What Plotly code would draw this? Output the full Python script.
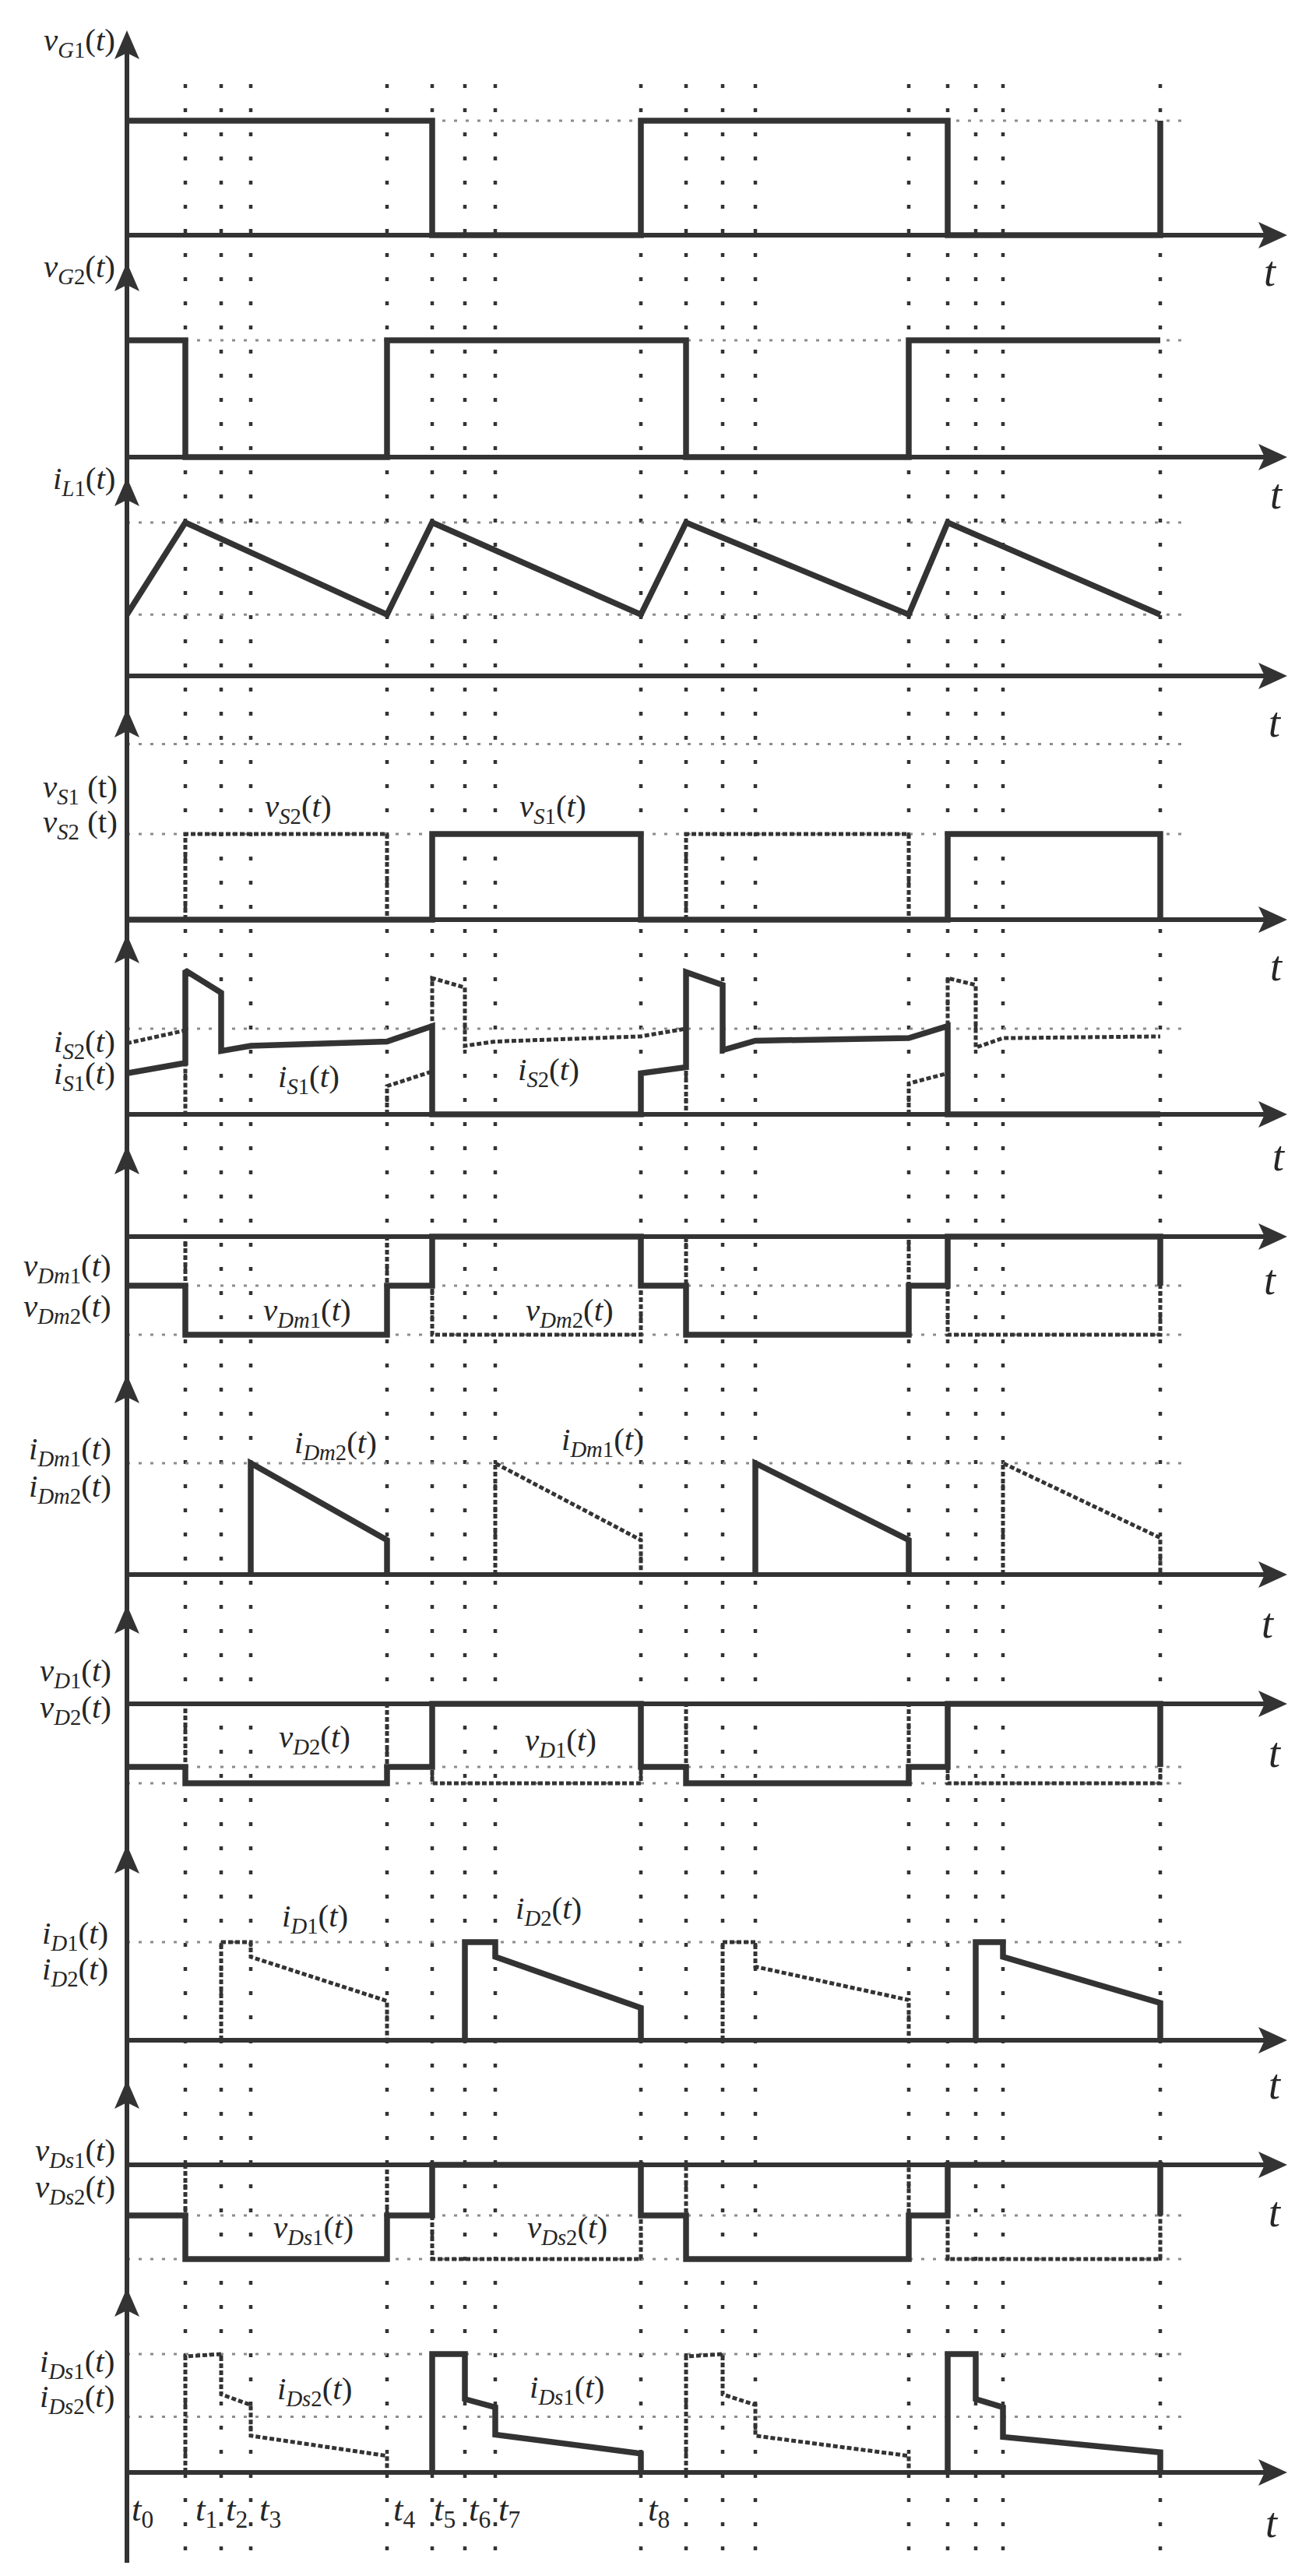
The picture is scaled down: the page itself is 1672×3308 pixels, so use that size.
import plotly.graph_objects as go

W, H = 1672, 3308
AXIS_PX = 155          # pixel column of the vertical axis (t = 0)
C = "#333333"
TXT = "#262626"
FONT = "Liberation Serif"

# ---------------- data ----------------
# time marks t0..t15 and end of the drawn interval (arbitrary time units)
T_MARKS = [0, 75, 121, 159, 334, 392, 434, 473, 660, 718, 765, 807, 1004, 1054, 1090, 1125, 1327]
T_LABELS = ["t0", "t1", "t2", "t3", "t4", "t5", "t6", "t7", "t8"]

# waveforms: indices into T_MARKS and normalized values (None = gap)
VG1_IDX = [0, 5, 5, 8, 8, 13, 13, 16, 16]
VG1_VAL = [1, 1, 0, 0, 1, 1, 0, 0, 1]
VG2_IDX = [0, 1, 1, 4, 4, 9, 9, 12, 12, 16]
VG2_VAL = [1, 1, 0, 0, 1, 1, 0, 0, 1, 1]

IL1_IDX = [0, 1, 4, 5, 8, 9, 12, 13, 16]
IL1_VAL = [0.40, 1.0, 0.40, 1.0, 0.40, 1.0, 0.40, 1.0, 0.40]

VS1_IDX = [0, 5, 5, 8, 8, 13, 13, 16, 16]
VS1_VAL = [0, 0, 1, 1, 0, 0, 1, 1, 0]
VS2_IDX = [1, 1, 4, 4, None, 9, 9, 12, 12]
VS2_VAL = [0, 1, 1, 0, None, 0, 1, 1, 0]

IS1_IDX = [0, 1, 1, 2, 2, 3, 4, 5, 5, 8, 8, 9, 9, 10, 10, 11, 12, 13, 13, 16]
IS1_VAL = [0.48, 0.60, 1.68, 1.42, 0.74, 0.80, 0.85, 1.03, 0, 0,
           0.48, 0.55, 1.66, 1.51, 0.75, 0.86, 0.89, 1.03, 0, 0]
IS2_IDX = [0, 1, 1, None, 4, 4, 5, 5, 6, 6, 7, 8, 9, 9, None,
           12, 12, 13, 13, 14, 14, 15, 16]
IS2_VAL = [0.83, 0.98, 0, None, 0, 0.33, 0.50, 1.59, 1.48, 0.80, 0.85, 0.91, 1.0, 0, None,
           0, 0.36, 0.48, 1.59, 1.51, 0.78, 0.89, 0.91]

STEP_IDX = [0, 1, 1, 4, 4, 5, 5, 8, 8, 9, 9, 12, 12, 13, 13, 16, 16]
VDM1_VAL = [-1, -1, -2, -2, -1, -1, 0, 0, -1, -1, -2, -2, -1, -1, 0, 0, -1]
VDM2_VAL = [-1, -1, 0, 0, -1, -1, -2, -2, -1, -1, 0, 0, -1, -1, -2, -2, -1]

IDM2_IDX = [3, 3, 4, 4, None, 11, 11, 12, 12]
IDM2_VAL = [0, 1, 0.31, 0, None, 0, 1, 0.31, 0]
IDM1_IDX = [7, 7, 8, 8, None, 15, 15, 16, 16]
IDM1_VAL = [0, 1, 0.31, 0, None, 0, 1, 0.33, 0]

VD1_VAL = [-1, -1, -1.26, -1.26, -1, -1, 0, 0, -1, -1, -1.26, -1.26, -1, -1, 0, 0, -1]
VD2_VAL = [-1, -1, 0, 0, -1, -1, -1.26, -1.26, -1, -1, 0, 0, -1, -1, -1.26, -1.26, -1]

ID1_IDX = [2, 2, 3, 3, 4, 4, None, 10, 10, 11, 11, 12, 12]
ID1_VAL = [0, 1, 1, 0.85, 0.40, 0, None, 0, 1, 1, 0.75, 0.41, 0]
ID2_IDX = [6, 6, 7, 7, 8, 8, None, 14, 14, 15, 15, 16, 16]
ID2_VAL = [0, 1, 1, 0.85, 0.33, 0, None, 0, 1, 1, 0.85, 0.38, 0]

VDS1_VAL = [-1, -1, -1.86, -1.86, -1, -1, 0, 0, -1, -1, -1.86, -1.86, -1, -1, 0, 0, -1]
VDS2_VAL = [-1, -1, 0, 0, -1, -1, -1.86, -1.86, -1, -1, 0, 0, -1, -1, -1.86, -1.86, -1]

IDS2_IDX = [1, 1, 2, 2, 3, 3, 4, 4, None, 9, 9, 10, 10, 11, 11, 12, 12]
IDS2_VAL = [0, 0.98, 1.0, 0.66, 0.57, 0.31, 0.14, 0, None, 0, 0.98, 1.0, 0.66, 0.57, 0.31, 0.14, 0]
IDS1_IDX = [5, 5, 6, 6, 7, 7, 8, 8, None, 13, 13, 14, 14, 15, 15, 16, 16]
IDS1_VAL = [0, 1, 1, 0.62, 0.55, 0.32, 0.16, 0, None, 0, 1, 1, 0.62, 0.55, 0.30, 0.17, 0]

# reference (gray dotted) levels per panel
REF_LEVELS = [[1], [1], [1.0, 0.40], [2.05, 1.0], [1.0], [-1, -2], [1.0], [-1, -1.26],
              [1.0], [-1, -1.86], [1.0, 0.47]]


def lab(sym, sub, upright_t=False, space=""):
    t = "t" if upright_t else "<i>t</i>"
    return f"<i>{sym}</i><sub>{sub}</sub>{space}({t})"


# ---------------- layout of panels (pixel positions) ----------------
PANELS = [
    dict(base=294, unit=147, tip=31, tlab=(1623, 341),
         left=[(lab("v", "<i>G</i>1"), 142, 46)], inplot=[]),
    dict(base=579, unit=150, tip=329, tlab=(1631, 627),
         left=[(lab("v", "<i>G</i>2"), 142, 337)], inplot=[]),
    dict(base=860, unit=197, tip=605, tlab=(1629, 920),
         left=[(lab("i", "<i>L</i>1"), 142, 609)], inplot=[]),
    dict(base=1173, unit=110, tip=902, tlab=(1631, 1233),
         left=[(lab("v", "<i>S</i>1", True, " "), 145, 1005), (lab("v", "<i>S</i>2", True, " "), 145, 1050)],
         inplot=[(lab("v", "<i>S</i>2"), 375, 1030), (lab("v", "<i>S</i>1"), 702, 1030)]),
    dict(base=1423, unit=110, tip=1192, tlab=(1634, 1477),
         left=[(lab("i", "<i>S</i>2"), 142, 1332), (lab("i", "<i>S</i>1"), 142, 1373)],
         inplot=[(lab("i", "<i>S</i>1"), 388, 1377), (lab("i", "<i>S</i>2"), 696, 1368)]),
    dict(base=1580, unit=63, tip=1463, tlab=(1623, 1636),
         left=[(lab("v", "<i>Dm</i>1"), 137, 1620), (lab("v", "<i>Dm</i>2"), 137, 1672)],
         inplot=[(lab("v", "<i>Dm</i>1"), 386, 1677), (lab("v", "<i>Dm</i>2"), 723, 1677)]),
    dict(base=2014, unit=143, tip=1757, tlab=(1620, 2077),
         left=[(lab("i", "<i>Dm</i>1"), 137, 1855), (lab("i", "<i>Dm</i>2"), 137, 1903)],
         inplot=[(lab("i", "<i>Dm</i>2"), 423, 1847), (lab("i", "<i>Dm</i>1"), 766, 1843)]),
    dict(base=2180, unit=81, tip=2053, tlab=(1629, 2243),
         left=[(lab("v", "<i>D</i>1"), 137, 2140), (lab("v", "<i>D</i>2"), 137, 2187)],
         inplot=[(lab("v", "<i>D</i>2"), 396, 2225), (lab("v", "<i>D</i>1"), 712, 2229)]),
    dict(base=2612, unit=126, tip=2361, tlab=(1629, 2669),
         left=[(lab("i", "<i>D</i>1"), 133, 2477), (lab("i", "<i>D</i>2"), 133, 2523)],
         inplot=[(lab("i", "<i>D</i>1"), 396, 2455), (lab("i", "<i>D</i>2"), 696, 2445)]),
    dict(base=2772, unit=65, tip=2663, tlab=(1629, 2833),
         left=[(lab("v", "<i>Ds</i>1"), 142, 2756), (lab("v", "<i>Ds</i>2"), 142, 2803)],
         inplot=[(lab("v", "<i>Ds</i>1"), 394, 2855), (lab("v", "<i>Ds</i>2"), 720, 2855)]),
    dict(base=3167, unit=152, tip=2930, tlab=(1625, 3232),
         left=[(lab("i", "<i>Ds</i>1"), 141, 3027), (lab("i", "<i>Ds</i>2"), 141, 3072)],
         inplot=[(lab("i", "<i>Ds</i>2"), 396, 3062), (lab("i", "<i>Ds</i>1"), 720, 3060)]),
]

SOLID = dict(color=C, width=7.5)
DOTW = dict(color=C, width=5, dash="6px,3px")

WAVES = [
    (0, VG1_IDX, VG1_VAL, SOLID),
    (1, VG2_IDX, VG2_VAL, SOLID),
    (2, IL1_IDX, IL1_VAL, SOLID),
    (3, VS2_IDX, VS2_VAL, DOTW), (3, VS1_IDX, VS1_VAL, SOLID),
    (4, IS2_IDX, IS2_VAL, DOTW), (4, IS1_IDX, IS1_VAL, SOLID),
    (5, STEP_IDX, VDM2_VAL, DOTW), (5, STEP_IDX, VDM1_VAL, SOLID),
    (6, IDM1_IDX, IDM1_VAL, DOTW), (6, IDM2_IDX, IDM2_VAL, SOLID),
    (7, STEP_IDX, VD2_VAL, DOTW), (7, STEP_IDX, VD1_VAL, SOLID),
    (8, ID1_IDX, ID1_VAL, DOTW), (8, ID2_IDX, ID2_VAL, SOLID),
    (9, STEP_IDX, VDS2_VAL, DOTW), (9, STEP_IDX, VDS1_VAL, SOLID),
    (10, IDS2_IDX, IDS2_VAL, DOTW), (10, IDS1_IDX, IDS1_VAL, SOLID),
]


def yname(k):
    return "y" if k == 0 else f"y{k + 1}"


def px_x(p):
    return p - AXIS_PX


def px_paper(p):
    return 1 - p / H


fig = go.Figure()
layout_axes = {}
for k, p in enumerate(PANELS):
    key = "yaxis" if k == 0 else f"yaxis{k + 1}"
    ax = dict(range=[(p["base"] - H) / p["unit"], p["base"] / p["unit"]],
              domain=[0, 1], visible=False, fixedrange=True)
    if k > 0:
        ax["overlaying"] = "y"
    layout_axes[key] = ax

for k, idx, val, style in WAVES:
    xs = [None if i is None else T_MARKS[i] for i in idx]
    fig.add_trace(go.Scatter(x=xs, y=val, mode="lines", line=style, xaxis="x",
                             yaxis=yname(k), hoverinfo="skip", showlegend=False,
                             connectgaps=False))

shapes = []
annotations = []
REF_END = px_x(1520)
AX_END = px_x(1645)

# black sparse vertical dotted lines at every time mark
for t in T_MARKS[1:]:
    shapes.append(dict(type="line", xref="x", yref="paper", x0=t, x1=t,
                       y0=px_paper(3267), y1=px_paper(82), layer="below",
                       line=dict(color=C, width=4.5, dash="5px,26px")))

for k, p in enumerate(PANELS):
    yr = yname(k)
    for lv in REF_LEVELS[k]:
        shapes.append(dict(type="line", xref="x", yref=yr, x0=0, x1=REF_END, y0=lv, y1=lv,
                           layer="below", line=dict(color="#8c8c8c", width=3, dash="4px,11px")))
    # t axis
    shapes.append(dict(type="line", xref="x", yref=yr, x0=0, x1=AX_END - 20, y0=0, y1=0,
                       layer="below", line=dict(color=C, width=6)))
    shapes.append(dict(type="path", xref="x", yref=yr, xsizemode="pixel", ysizemode="pixel",
                       xanchor=AX_END, yanchor=0, path="M0,0 L-37,17 L-29,0 L-37,-17 Z",
                       fillcolor=C, line=dict(width=0)))
    # y axis arrow head
    shapes.append(dict(type="path", xref="x", yref="paper", xsizemode="pixel", ysizemode="pixel",
                       xanchor=0, yanchor=px_paper(p["tip"]), path="M0,0 L-16,-37 L0,-29 L16,-37 Z",
                       fillcolor=C, line=dict(width=0)))
    # "t" label
    annotations.append(dict(x=px_x(p["tlab"][0]), y=px_paper(p["tlab"][1]), xref="x", yref="paper",
                            text="<i>t</i>", showarrow=False, xanchor="center", yanchor="middle",
                            font=dict(family=FONT, size=54, color=TXT)))
    for txt, xr, yc in p["left"]:
        annotations.append(dict(x=px_x(xr), y=px_paper(yc), xref="x", yref="paper", text=txt,
                                showarrow=False, xanchor="right", yanchor="middle",
                                font=dict(family=FONT, size=41, color=TXT)))
    for txt, xc, yc in p["inplot"]:
        annotations.append(dict(x=px_x(xc), y=px_paper(yc), xref="x", yref="paper", text=txt,
                                showarrow=False, xanchor="center", yanchor="middle",
                                font=dict(family=FONT, size=41, color=TXT)))

# vertical axis line
shapes.append(dict(type="line", xref="x", yref="paper", x0=0, x1=0,
                   y0=px_paper(3283), y1=px_paper(45), line=dict(color=C, width=6)))

# time labels t0..t8 under the last panel
T_LABEL_X = [175, 257, 296, 339, 511, 563, 608, 646, 838]
for i, name in enumerate(T_LABELS):
    annotations.append(dict(x=px_x(T_LABEL_X[i]), y=px_paper(3217), xref="x", yref="paper",
                            text=f"<i>t</i><sub>{name[1:]}</sub>", showarrow=False,
                            xanchor="center", yanchor="middle",
                            font=dict(family=FONT, size=45, color=TXT)))

fig.update_layout(
    width=W, height=H,
    margin=dict(l=0, r=0, t=0, b=0),
    paper_bgcolor="white", plot_bgcolor="white",
    xaxis=dict(range=[-AXIS_PX, W - AXIS_PX], visible=False, fixedrange=True),
    shapes=shapes, annotations=annotations, showlegend=False,
    **layout_axes,
)
fig.write_html("out.html")
